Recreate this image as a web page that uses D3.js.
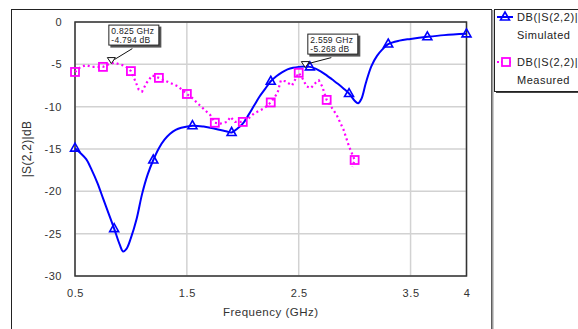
<!DOCTYPE html>
<html>
<head>
<meta charset="utf-8">
<script src="https://cdn.jsdelivr.net/npm/d3@7"></script>
<style>
  body { margin: 0; background: #fff; }
  svg { display: block; font-family: "Liberation Sans", Arial, sans-serif; }
  .tick text { fill: #333; }
</style>
</head>
<body>
<svg id="chart"></svg>
<script>
// Simulated trace |S(2,2)| in dB
let simFreq = [0.50, 0.55, 0.60, 0.65, 0.70, 0.75, 0.80, 0.85, 0.90, 0.93, 0.96, 1.00, 1.05, 1.10, 1.15, 1.20,
  1.25, 1.30, 1.35, 1.40, 1.45, 1.55, 1.65, 1.75, 1.85, 1.90, 1.95, 2.00, 2.05, 2.10, 2.15, 2.20, 2.25,
  2.30, 2.35, 2.40, 2.45, 2.50, 2.55, 2.60, 2.65, 2.70, 2.75, 2.80, 2.85, 2.90, 2.95, 3.00, 3.03, 3.06,
  3.10, 3.15, 3.20, 3.25, 3.30, 3.40, 3.50, 3.65, 3.80, 4.00];
let simDb = [-14.9, -15.5, -16.2, -17.5, -19.0, -20.8, -22.6, -24.4, -26.3, -27.1, -26.8, -25.5, -23.3, -20.3, -18.0, -16.3,
  -14.9, -13.9, -13.2, -12.75, -12.5, -12.25, -12.35, -12.6, -12.9, -13.05, -12.6, -12.0, -11.0, -9.9, -8.8, -7.9, -7.0,
  -6.4, -5.95, -5.6, -5.4, -5.3, -5.27, -5.3, -5.5, -5.85, -6.3, -6.8, -7.3, -7.85, -8.45, -9.3, -9.6, -9.1,
  -7.2, -5.2, -4.0, -3.2, -2.6, -2.2, -2.0, -1.75, -1.55, -1.4];
let simMarkFreq = [0.50, 0.85, 1.20, 1.55, 1.90, 2.25, 2.60, 2.95, 3.30, 3.65, 4.00];

// Measured trace
let measFreq = [0.50, 0.55, 0.60, 0.65, 0.70, 0.75, 0.80, 0.85, 0.90, 0.95, 1.00, 1.04, 1.07, 1.10, 1.14, 1.19,
  1.25, 1.30, 1.35, 1.42, 1.50, 1.55, 1.62, 1.71, 1.75, 1.80, 1.86, 1.89, 1.93, 2.00, 2.05, 2.10, 2.19,
  2.25, 2.31, 2.34, 2.38, 2.44, 2.50, 2.54, 2.57, 2.61, 2.65, 2.68, 2.71, 2.75, 2.80, 2.84, 2.90, 2.95,
  3.00, 2.98];
let measDb = [-5.9, -5.3, -5.1, -5.3, -5.3, -5.3, -5.0, -4.8, -5.0, -5.2, -5.8, -7.0, -8.0, -8.2, -7.2, -6.3,
  -6.6, -6.9, -7.2, -7.6, -8.5, -9.0, -9.9, -11.0, -11.9, -12.0, -11.8, -11.2, -11.8, -11.8, -11.4, -10.8, -10.2,
  -9.5, -8.4, -6.9, -7.0, -7.5, -6.0, -6.8, -7.6, -7.8, -7.2, -6.9, -7.6, -9.2, -10.2, -11.0, -12.7, -14.7,
  -16.3, -17.1];
let measMarkFreq = [0.50, 0.75, 1.00, 1.25, 1.50, 1.75, 2.00, 2.25, 2.50, 2.75, 3.00];

// readouts
let markFreq = [0.825, 2.559];
let markDb = [-4.794, -5.268];

let xTicks = [0.5, 1.5, 2.5, 3.5, 4];
let yTicks = [0, -5, -10, -15, -20, -25, -30];

let legendNames = ['DB(|S(2,2)|', 'DB(|S(2,2)|'];
let legendSub = ['Simulated', 'Measured'];

let W = 578, H = 329;
let pLeft = 75, pTop = 22, pRight = 466.5, pBottom = 276;

// plain hyphen minus like the original plot
let fmt = d3.formatLocale({ decimal: '.', thousands: ',', grouping: [3], currency: ['', ''], minus: '-' });

let svg = d3.select('#chart').attr('width', W).attr('height', H);

let xScale = d3.scaleLinear().domain([0.5, 4]).range([pLeft, pRight]);
let yScale = d3.scaleLinear().domain([-30, 0]).range([pBottom, pTop]);

let sim = simFreq.map((f, i) => ({ f: f, v: simDb[i] }));
let meas = measFreq.map((f, i) => ({ f: f, v: measDb[i] }));

// outer frame
svg.append('rect').attr('x', 11.5).attr('y', 9.5).attr('width', 480).attr('height', 340)
  .attr('fill', 'none').attr('stroke', '#222');
svg.append('line').attr('x1', 492.5).attr('x2', 492.5).attr('y1', 10).attr('y2', H)
  .attr('stroke', '#9a9a9a').attr('stroke-width', 2);

// grid
let grid = svg.append('g');
grid.selectAll('.gx').data(xTicks).enter().append('line')
  .attr('x1', d => xScale(d)).attr('x2', d => xScale(d))
  .attr('y1', pTop).attr('y2', pBottom)
  .attr('stroke', '#d2d2d2').attr('stroke-width', 1.5);
grid.selectAll('.gy').data(yTicks).enter().append('line')
  .attr('x1', pLeft).attr('x2', pRight)
  .attr('y1', d => yScale(d)).attr('y2', d => yScale(d))
  .attr('stroke', '#d2d2d2').attr('stroke-width', 1.5);

// axes (labels only, box drawn separately)
let xAxis = d3.axisBottom(xScale).tickValues(xTicks).tickSize(0).tickPadding(13)
  .tickFormat(fmt.format('~g'));
let xAxisGroup = svg.append('g').attr('transform', `translate(0, ${pBottom})`).call(xAxis);
xAxisGroup.select('.domain').remove();
xAxisGroup.selectAll('text').attr('font-size', 11).attr('letter-spacing', 0.6)
  .attr('font-family', 'Liberation Sans, Arial, sans-serif');

let yAxis = d3.axisLeft(yScale).tickValues(yTicks).tickSize(0).tickPadding(13)
  .tickFormat(fmt.format('~g'));
let yAxisGroup = svg.append('g').attr('transform', `translate(${pLeft}, 0)`).call(yAxis);
yAxisGroup.select('.domain').remove();
yAxisGroup.selectAll('text').attr('font-size', 11).attr('letter-spacing', 0.5)
  .attr('font-family', 'Liberation Sans, Arial, sans-serif');

svg.append('rect').attr('x', pLeft).attr('y', pTop)
  .attr('width', pRight - pLeft).attr('height', pBottom - pTop)
  .attr('fill', 'none').attr('stroke', '#333').attr('stroke-width', 1.5);

// axis titles
svg.append('text').attr('x', (pLeft + pRight) / 2).attr('y', 316)
  .attr('text-anchor', 'middle').attr('font-size', 11.5).attr('letter-spacing', 0.5)
  .attr('fill', '#333').text('Frequency (GHz)');
svg.append('text').attr('transform', `translate(31, ${(pTop + pBottom) / 2}) rotate(-90)`)
  .attr('text-anchor', 'middle').attr('font-size', 12).attr('letter-spacing', 0.3)
  .attr('fill', '#333').text('|S(2,2)|dB');

// lines
let plot = svg.append('g');
let simLine = d3.line().x(d => xScale(d.f)).y(d => yScale(d.v)).curve(d3.curveCatmullRom);
let measLine = d3.line().x(d => xScale(d.f)).y(d => yScale(d.v)).curve(d3.curveLinear);

plot.append('path').datum(meas).attr('d', measLine)
  .attr('fill', 'none').attr('stroke', '#ff00ff').attr('stroke-width', 2.2)
  .attr('stroke-dasharray', '2 3');
plot.append('path').datum(sim).attr('d', simLine)
  .attr('fill', 'none').attr('stroke', '#0000ff').attr('stroke-width', 2);

function triPath(x, y) {
  return `M${x},${y - 5}L${x + 4.5},${y + 3}L${x - 4.5},${y + 3}Z`;
}

plot.selectAll('.sq').data(meas.filter(d => measMarkFreq.includes(d.f))).enter().append('rect')
  .attr('x', d => xScale(d.f) - 4).attr('y', d => yScale(d.v) - 4)
  .attr('width', 8).attr('height', 8)
  .attr('fill', 'none').attr('stroke', '#ff00ff').attr('stroke-width', 1.8);
plot.selectAll('.tri').data(sim.filter(d => simMarkFreq.includes(d.f))).enter().append('path')
  .attr('d', d => triPath(xScale(d.f), yScale(d.v)))
  .attr('fill', 'none').attr('stroke', '#0000ff').attr('stroke-width', 1.6);

// readout markers
let boxOff = [[-3, -38], [2, -33]];
markFreq.forEach((f, i) => {
  let px = xScale(f), py = yScale(markDb[i]);
  let bx = px + boxOff[i][0], by = py + boxOff[i][1];
  let g = svg.append('g');
  g.append('rect').attr('x', bx + 2).attr('y', by + 2).attr('width', 51).attr('height', 21).attr('fill', '#555');
  g.append('rect').attr('x', bx + 0.5).attr('y', by + 0.5).attr('width', 50).attr('height', 20)
    .attr('fill', '#fff').attr('stroke', '#222');
  g.append('text').attr('x', bx + 3).attr('y', by + 9).attr('font-size', 8.5).attr('letter-spacing', 0.25)
    .attr('fill', '#222').text(fmt.format('.3f')(f) + ' GHz');
  g.append('text').attr('x', bx + 3).attr('y', by + 18).attr('font-size', 8.5).attr('letter-spacing', 0.25)
    .attr('fill', '#222').text(fmt.format('.3f')(markDb[i]) + ' dB');
  g.append('line').attr('x1', px + 3).attr('y1', py - 3).attr('x2', bx + 24).attr('y2', by + 24)
    .attr('stroke', '#111').attr('stroke-width', 1);
  g.append('path').attr('d', `M${px - 4},${py - 5}L${px + 4},${py - 5}L${px},${py + 1}Z`)
    .attr('fill', '#fff').attr('stroke', '#111').attr('stroke-width', 1);
});

// legend
let lg = svg.append('g');
lg.append('rect').attr('x', 496).attr('y', 11).attr('width', 100).attr('height', 82).attr('fill', '#444');
lg.append('rect').attr('x', 494.5).attr('y', 9.5).attr('width', 100).attr('height', 82)
  .attr('fill', '#fff').attr('stroke', '#222');
let legY = [17, 62];
let legColor = ['#0000ff', '#ff00ff'];
legendNames.forEach((name, i) => {
  let y = legY[i];
  lg.append('line').attr('x1', 497).attr('x2', 513).attr('y1', y).attr('y2', y)
    .attr('stroke', legColor[i]).attr('stroke-width', 2)
    .attr('stroke-dasharray', i === 1 ? '2 2' : null);
  if (i === 0) {
    lg.append('path').attr('d', triPath(505, y)).attr('fill', 'none')
      .attr('stroke', legColor[i]).attr('stroke-width', 1.6);
  } else {
    lg.append('rect').attr('x', 502).attr('y', y - 4).attr('width', 8).attr('height', 8)
      .attr('fill', '#fff').attr('stroke', legColor[i]).attr('stroke-width', 1.8);
  }
  lg.append('text').attr('x', 517).attr('y', y + 4).attr('font-size', 11).attr('letter-spacing', 0.6)
    .attr('fill', '#222').text(name);
  lg.append('text').attr('x', 517).attr('y', y + 22).attr('font-size', 11).attr('letter-spacing', 0.5)
    .attr('fill', '#222').text(legendSub[i]);
});
</script>
</body>
</html>
